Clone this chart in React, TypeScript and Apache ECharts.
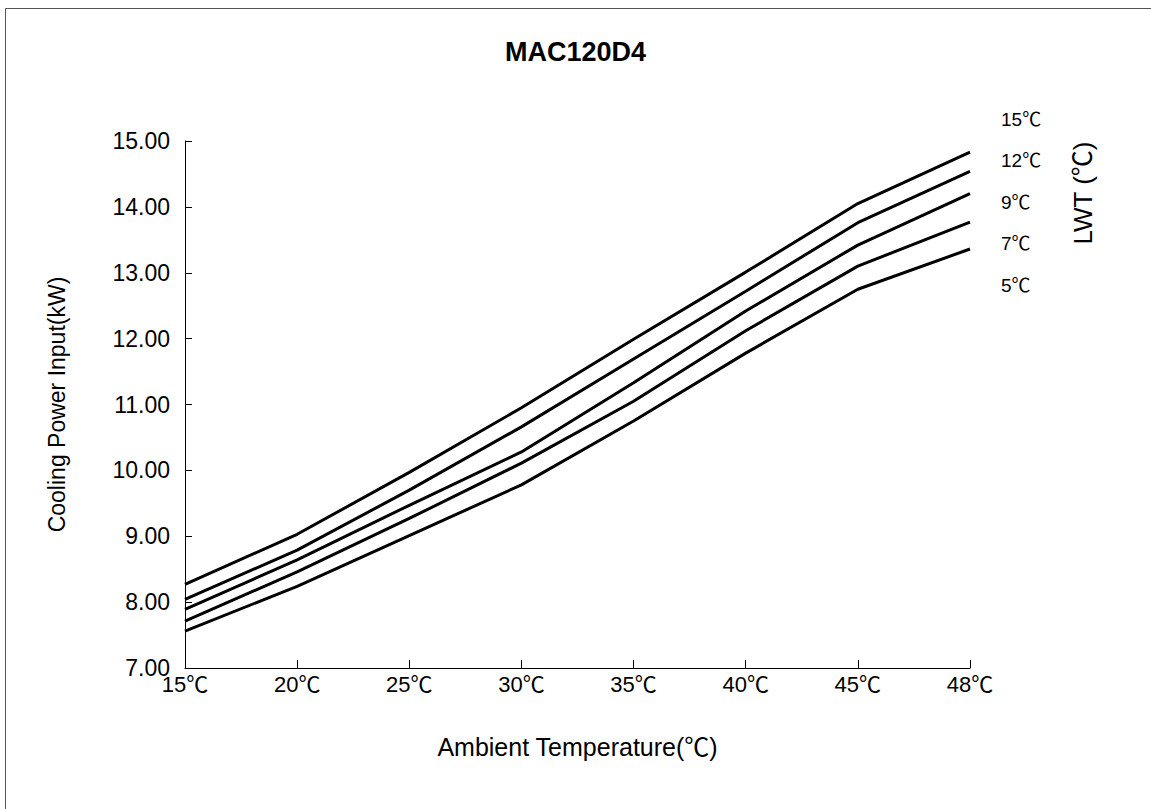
import React, { useEffect, useRef } from "react";
import * as echarts from "echarts";

const categories = ["15℃", "20℃", "25℃", "30℃", "35℃", "40℃", "45℃", "48℃"];
const lwt15 = [8.27, 9.03, 9.97, 10.95, 11.99, 13.01, 14.05, 14.83];
const lwt12 = [8.04, 8.79, 9.7, 10.66, 11.69, 12.72, 13.76, 14.54];
const lwt9 = [7.89, 8.64, 9.47, 10.28, 11.33, 12.42, 13.42, 14.2];
const lwt7 = [7.71, 8.46, 9.27, 10.11, 11.05, 12.12, 13.1, 13.77];
const lwt5 = [7.56, 8.24, 9.01, 9.78, 10.75, 11.78, 12.75, 13.36];
const seriesNames = ["15℃", "12℃", "9℃", "7℃", "5℃"];
const seriesData = [lwt15, lwt12, lwt9, lwt7, lwt5];
const title = "MAC120D4";
const xName = "Ambient Temperature(℃)";
const yName = "Cooling Power Input(kW)";
const legendName = "LWT (℃)";

const FONT = "'Liberation Sans', Arial, 'Noto Sans CJK SC', sans-serif";

export default function App() {
  const ref = useRef<HTMLDivElement>(null);
  useEffect(() => {
    if (!ref.current) return;
    const chart = echarts.init(ref.current, null, { renderer: "svg" });
    const labelY = [119, 160, 202, 243, 285];
    chart.setOption({
      animation: false,
      backgroundColor: "#fff",
      textStyle: { fontFamily: FONT },
      title: {
        text: title,
        left: "center",
        top: 33,
        textStyle: { fontFamily: FONT, fontSize: 27, fontWeight: "bold", color: "#000" },
      },
      grid: { left: 185, right: 181, top: 141, bottom: 141, containLabel: false },
      xAxis: {
        type: "category",
        data: categories,
        boundaryGap: false,
        axisLine: { lineStyle: { color: "#000", width: 1 } },
        axisTick: { inside: true, length: 8, lineStyle: { color: "#000" } },
        axisLabel: { fontSize: 22, color: "#000", margin: 5, fontFamily: FONT },
        name: xName,
        nameLocation: "middle",
        nameGap: 66,
        nameTextStyle: { fontSize: 25, color: "#000", fontFamily: FONT },
        splitLine: { show: false },
      },
      yAxis: {
        type: "value",
        min: 7,
        max: 15,
        interval: 1,
        axisLine: { show: true, lineStyle: { color: "#000", width: 1 } },
        axisTick: { show: true, inside: true, length: 7, lineStyle: { color: "#000" } },
        axisLabel: {
          fontSize: 23,
          color: "#000",
          margin: 15,
          fontFamily: FONT,
          formatter: (v: number) => v.toFixed(2),
        },
        name: yName,
        nameLocation: "middle",
        nameGap: 117,
        nameTextStyle: { fontSize: 23, color: "#000", fontFamily: FONT },
        splitLine: { show: false },
      },
      series: seriesNames.map((n, i) => ({
        name: n,
        type: "line",
        data: seriesData[i],
        symbol: "none",
        lineStyle: { color: "#000", width: 3 },
      })),
      graphic: [
        {
          type: "rect",
          shape: { x: 5.5, y: 8.5, width: 1200, height: 900 },
          style: { fill: "none", stroke: "#555", lineWidth: 1 },
          silent: true,
        },
        ...seriesNames.map((n, i) => ({
          type: "text",
          x: 1001,
          y: labelY[i],
          style: {
            text: n,
            fontSize: 19,
            fontFamily: FONT,
            fill: "#000",
            verticalAlign: "middle",
            align: "left",
          },
        })),
        {
          type: "text",
          x: 1083,
          y: 193,
          rotation: Math.PI / 2,
          style: {
            text: legendName,
            fontSize: 26,
            fontFamily: FONT,
            fill: "#000",
            align: "center",
            verticalAlign: "middle",
          },
        },
      ],
    });
    return () => chart.dispose();
  }, []);
  return (
    <div
      ref={ref}
      style={{ position: "absolute", left: 0, top: 0, width: 1151, height: 809 }}
    />
  );
}
